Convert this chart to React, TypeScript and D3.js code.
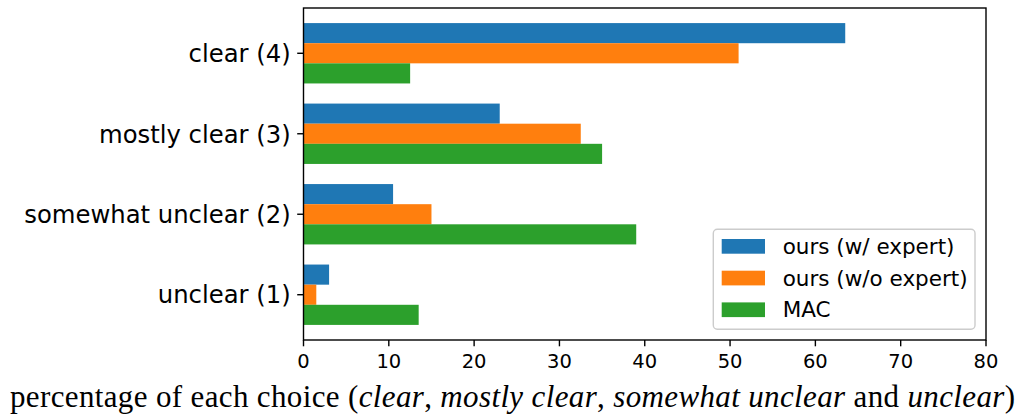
import React from "react";
import * as d3 from "d3";

const categories = ["unclear (1)", "somewhat unclear (2)", "mostly clear (3)", "clear (4)"];
const seriesNames = ["ours (w/ expert)", "ours (w/o expert)", "MAC"];
const oursExpert = [3.0, 10.5, 23.0, 63.5];
const oursNoExpert = [1.5, 15.0, 32.5, 51.0];
const mac = [13.5, 39.0, 35.0, 12.5];
const xTicks = [0, 10, 20, 30, 40, 50, 60, 70, 80];
const colors = ["#1f77b4", "#ff7f0e", "#2ca02c"];

const W = 1018, H = 414;
const left = 303.5, right = 986, top = 8, bottom = 340;

export default function App() {
  const x = d3.scaleLinear().domain([0, 80]).range([left, right]);
  const y = d3.scaleLinear().domain([0.4375, 4.5625]).range([bottom, top]);
  const series = [oursExpert, oursNoExpert, mac];
  const offsets = [0.25, 0, -0.25];
  const barH = 0.25;
  const sans = "'DejaVu Sans', sans-serif";
  const serif = "'Liberation Serif', 'Times New Roman', serif";
  return (
    <svg width={W} height={H} style={{ position: "absolute", left: 0, top: 0, background: "#fff" }}>
      {series.map((vals, si) =>
        vals.map((v, ci) => {
          const yc = ci + 1 + offsets[si];
          return (
            <rect key={`${si}-${ci}`} x={x(0)} y={y(yc + barH / 2)} width={x(v) - x(0)}
              height={y(yc - barH / 2) - y(yc + barH / 2)} fill={colors[si]} />
          );
        })
      )}
      <rect x={left} y={top} width={right - left} height={bottom - top} fill="none" stroke="#000" strokeWidth={1.4} />
      {xTicks.map((t) => (
        <g key={t}>
          <line x1={x(t)} x2={x(t)} y1={bottom} y2={bottom + 6.3} stroke="#000" strokeWidth={1.4} />
          <text x={x(t)} y={368} textAnchor="middle" fontFamily={sans} fontSize={19.5} fill="#000">{t}</text>
        </g>
      ))}
      {categories.map((c, i) => (
        <g key={c}>
          <line x1={left - 6.3} x2={left} y1={y(i + 1)} y2={y(i + 1)} stroke="#000" strokeWidth={1.4} />
          <text x={290.7} y={y(i + 1)} dy="0.36em" textAnchor="end" fontFamily={sans} fontSize={24.3} fill="#000">{c}</text>
        </g>
      ))}
      <text x={10} y={406.5} textAnchor="start" textLength={1005} lengthAdjust="spacing" fontFamily={serif} fontSize={31} fill="#000">
        percentage of each choice (<tspan fontStyle="italic">clear</tspan>, <tspan fontStyle="italic">mostly clear</tspan>, <tspan fontStyle="italic">somewhat unclear</tspan> and <tspan fontStyle="italic">unclear</tspan>)
      </text>
      <g>
        <rect x={713.3} y={229.3} width={261.7} height={100} rx={4} fill="#fff" fillOpacity={0.8} stroke="#ccc" strokeWidth={1.4} />
        {seriesNames.map((n, i) => (
          <g key={n}>
            <rect x={721.7} y={239 + i * 31.7} width={43.3} height={14.7} fill={colors[i]} />
            <text x={782.7} y={239 + i * 31.7 + 7.35} dy="0.36em" fontFamily={sans} fontSize={21.5} fill="#000">{n}</text>
          </g>
        ))}
      </g>
    </svg>
  );
}
